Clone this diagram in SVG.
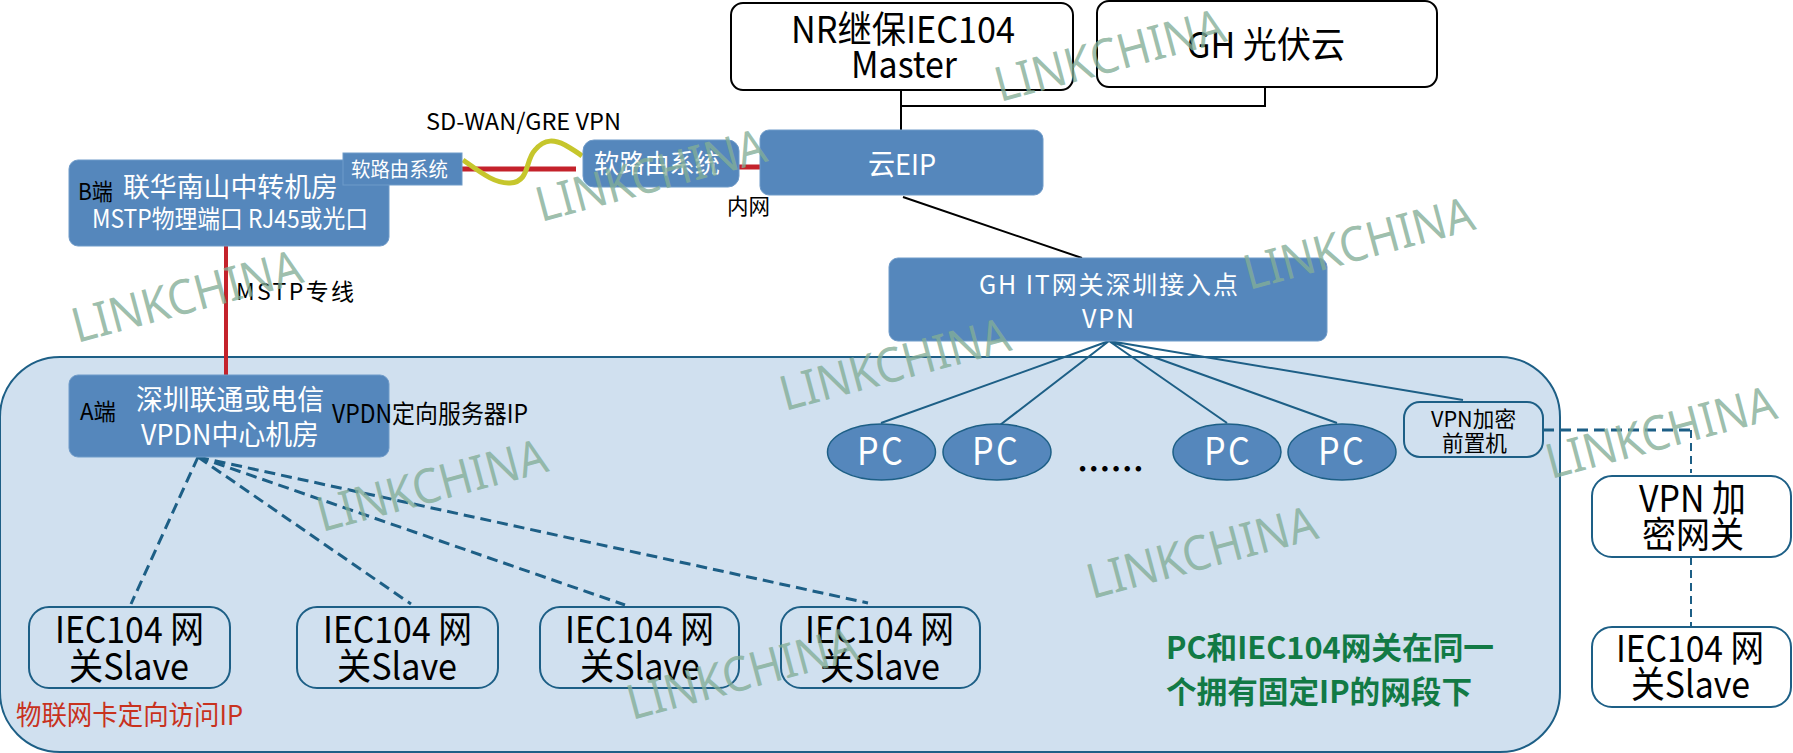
<svg xmlns="http://www.w3.org/2000/svg" width="1793" height="753" viewBox="0 0 1793 753">
<style>
text{font-family:"Noto Sans CJK SC","Noto Sans",sans-serif;fill:#000}
.w{fill:#fff}
.blue{fill:#5587bc;stroke:#6f9bc9;stroke-width:1}
.white{fill:#fff;stroke:#000;stroke-width:2}
.tw{fill:#fff;stroke:#1d5f86;stroke-width:2}
.lt{fill:#d0e0ef;stroke:#1d5f86;stroke-width:2}
.el{fill:#5587bc;stroke:#1d5f86;stroke-width:1.5}
.conn{fill:none}
.blk{stroke:#000;stroke-width:2}
.red{stroke:#c4222b}
.teal{stroke:#1d5f86;stroke-width:2}
.dash{stroke:#1d5f86;stroke-width:3;stroke-dasharray:11 6}
.wm{fill:#83ae97;fill-opacity:.8;font-size:48px;font-family:"Noto Sans","Open Sans",sans-serif}
</style>
<g id="zone"><rect class="lt" x="0" y="357" width="1560" height="395" rx="60"/></g>
<g id="connectors" class="conn">
<path class="red" stroke-width="5" d="M462 169H576M739 167H760"/>
<path class="red" stroke-width="4" d="M226 246V375"/>
<path stroke="#c6c62c" stroke-width="5" fill="none" d="M463 160C480 172 495 184 510 183C530 182 525 160 535 150C545 138 555 140 565 145C572 149 577 152 582 156"/>
<path class="blk" d="M901 90V130M901 106H1265V88M903 197L1082 258"/>
<path class="teal" d="M1109 341L881 423M1109 341L1000 425M1109 341L1227 423M1109 341L1337 423M1109 341L1463 400"/>
<path class="dash" d="M198 457L131 604M198 457L411 604M198 457L625 605M198 457L868 603M1543 430H1691"/>
<path class="teal" stroke-dasharray="8 5" d="M1691 430V473M1691 557V627"/>
</g>
<g id="b-room"><rect class="blue" x="69" y="160" width="320" height="86" rx="9"/>
<text x="78" y="200" font-size="23" textLength="35" lengthAdjust="spacingAndGlyphs">B端</text>
<text class="w" x="123" y="197" font-size="27" textLength="215" lengthAdjust="spacingAndGlyphs">联华南山中转机房</text>
<text class="w" x="92" y="228" font-size="25" textLength="276" lengthAdjust="spacingAndGlyphs">MSTP物理端口 RJ45或光口</text></g>
<g id="soft-router-a"><rect class="blue" x="343" y="153" width="119" height="32"/>
<text class="w" x="351" y="177" font-size="20" textLength="97" lengthAdjust="spacingAndGlyphs">软路由系统</text></g>
<g id="soft-router-b"><rect class="blue" x="583" y="140" width="156" height="47" rx="11"/>
<text class="w" x="594" y="173" font-size="26" textLength="126" lengthAdjust="spacingAndGlyphs">软路由系统</text></g>
<g id="cloud-eip"><rect class="blue" x="760" y="130" width="283" height="65" rx="9"/>
<text class="w" x="868" y="175" font-size="29" textLength="68" lengthAdjust="spacingAndGlyphs">云EIP</text></g>
<g id="nr-master"><rect class="white" x="731" y="3" width="342" height="87" rx="12"/>
<text x="791" y="43" font-size="37" textLength="224" lengthAdjust="spacingAndGlyphs">NR继保IEC104</text>
<text x="851" y="78" font-size="37" textLength="106" lengthAdjust="spacingAndGlyphs">Master</text></g>
<g id="gh-cloud"><rect class="white" x="1097" y="1" width="340" height="86" rx="12"/>
<text x="1187" y="58" font-size="36" textLength="158" lengthAdjust="spacingAndGlyphs">GH 光伏云</text></g>
<g id="gh-it"><rect class="blue" x="889" y="258" width="438" height="83" rx="9"/>
<text class="w" x="979" y="294" font-size="25" textLength="259">GH IT网关深圳接入点</text>
<text class="w" x="1082" y="328" font-size="25" textLength="52">VPN</text></g>
<g id="a-room"><rect class="blue" x="69" y="375" width="320" height="82" rx="9"/>
<text x="80" y="420" font-size="23" textLength="36" lengthAdjust="spacingAndGlyphs">A端</text>
<text class="w" x="136" y="410" font-size="28" textLength="188" lengthAdjust="spacingAndGlyphs">深圳联通或电信</text>
<text class="w" x="141" y="445" font-size="28" textLength="178" lengthAdjust="spacingAndGlyphs">VPDN中心机房</text></g>
<g id="pc1"><ellipse class="el" cx="881.500" cy="452" rx="54" ry="28"/><text class="w" transform="translate(857 465) scale(.9 1)" font-size="38" textLength="51">PC</text></g>
<g id="pc2"><ellipse class="el" cx="997" cy="452" rx="54" ry="28"/><text class="w" transform="translate(972 465) scale(.9 1)" font-size="38" textLength="51">PC</text></g>
<g id="pc3"><ellipse class="el" cx="1227" cy="452" rx="54" ry="28"/><text class="w" transform="translate(1204 465) scale(.9 1)" font-size="38" textLength="51">PC</text></g>
<g id="pc4"><ellipse class="el" cx="1342" cy="452" rx="54" ry="28"/><text class="w" transform="translate(1318 465) scale(.9 1)" font-size="38" textLength="51">PC</text></g>
<text x="1077" y="481" font-size="33.500" font-weight="700" textLength="67">……</text>
<g id="vpn-front"><rect class="lt" x="1404" y="402" width="139" height="55" rx="16"/>
<text x="1431" y="427" font-size="22" textLength="85" lengthAdjust="spacingAndGlyphs">VPN加密</text>
<text x="1442" y="451" font-size="22" textLength="65" lengthAdjust="spacingAndGlyphs">前置机</text></g>
<g id="vpn-gw"><rect class="tw" x="1592" y="476" width="199" height="81" rx="20"/>
<text x="1639" y="512" font-size="37" textLength="107" lengthAdjust="spacingAndGlyphs">VPN 加</text>
<text x="1642" y="548" font-size="36" textLength="102" lengthAdjust="spacingAndGlyphs">密网关</text></g>
<g id="slave-r"><rect class="tw" x="1592" y="627" width="199" height="80" rx="20"/>
<text x="1616" y="662" font-size="37" textLength="148" lengthAdjust="spacingAndGlyphs">IEC104 网</text>
<text x="1631" y="698" font-size="37" textLength="119" lengthAdjust="spacingAndGlyphs">关Slave</text></g>
<g id="slave-1"><rect class="lt" x="29" y="607" width="201" height="81" rx="20"/>
<text x="55" y="643" font-size="37" textLength="149" lengthAdjust="spacingAndGlyphs">IEC104 网</text>
<text x="69" y="680" font-size="37" textLength="120" lengthAdjust="spacingAndGlyphs">关Slave</text></g>
<g id="slave-2"><rect class="lt" x="297" y="607" width="201" height="81" rx="20"/>
<text x="323" y="643" font-size="37" textLength="149" lengthAdjust="spacingAndGlyphs">IEC104 网</text>
<text x="337" y="680" font-size="37" textLength="120" lengthAdjust="spacingAndGlyphs">关Slave</text></g>
<g id="slave-3"><rect class="lt" x="540" y="607" width="199" height="81" rx="20"/>
<text x="565" y="643" font-size="37" textLength="149" lengthAdjust="spacingAndGlyphs">IEC104 网</text>
<text x="580" y="680" font-size="37" textLength="120" lengthAdjust="spacingAndGlyphs">关Slave</text></g>
<g id="slave-4"><rect class="lt" x="781" y="607" width="199" height="81" rx="20"/>
<text x="805" y="643" font-size="37" textLength="149" lengthAdjust="spacingAndGlyphs">IEC104 网</text>
<text x="820" y="680" font-size="37" textLength="120" lengthAdjust="spacingAndGlyphs">关Slave</text></g>
<g id="labels">
<text x="426" y="130" font-size="23" textLength="195" lengthAdjust="spacingAndGlyphs">SD-WAN/GRE VPN</text>
<text x="727" y="214" font-size="22" textLength="43" lengthAdjust="spacingAndGlyphs">内网</text>
<text x="236" y="300" font-size="23" textLength="118">MSTP专线</text>
<text x="332" y="423" font-size="25" textLength="196" lengthAdjust="spacingAndGlyphs">VPDN定向服务器IP</text>
<text x="16" y="725" font-size="27" textLength="227" lengthAdjust="spacingAndGlyphs" style="fill:#c8321e">物联网卡定向访问IP</text>
<text x="1166" y="659" font-size="31" font-weight="700" textLength="328" lengthAdjust="spacingAndGlyphs" style="fill:#127a45">PC和IEC104网关在同一</text>
<text x="1166" y="703" font-size="31" font-weight="700" textLength="306" lengthAdjust="spacingAndGlyphs" style="fill:#127a45">个拥有固定IP的网段下</text>
</g>
<g id="watermarks">
<text class="wm" transform="translate(77 343) rotate(-15)" textLength="236" lengthAdjust="spacingAndGlyphs">LINKCHINA</text>
<text class="wm" transform="translate(541 222) rotate(-15)" textLength="236" lengthAdjust="spacingAndGlyphs">LINKCHINA</text>
<text class="wm" transform="translate(1000 102) rotate(-15)" textLength="236" lengthAdjust="spacingAndGlyphs">LINKCHINA</text>
<text class="wm" transform="translate(1249 290) rotate(-15)" textLength="236" lengthAdjust="spacingAndGlyphs">LINKCHINA</text>
<text class="wm" transform="translate(785 411) rotate(-15)" textLength="236" lengthAdjust="spacingAndGlyphs">LINKCHINA</text>
<text class="wm" transform="translate(1551 479) rotate(-15)" textLength="236" lengthAdjust="spacingAndGlyphs">LINKCHINA</text>
<text class="wm" transform="translate(1092 599) rotate(-15)" textLength="236" lengthAdjust="spacingAndGlyphs">LINKCHINA</text>
<text class="wm" transform="translate(322 532) rotate(-15)" textLength="236" lengthAdjust="spacingAndGlyphs">LINKCHINA</text>
<text class="wm" transform="translate(632 720) rotate(-15)" textLength="236" lengthAdjust="spacingAndGlyphs">LINKCHINA</text>
</g>
</svg>
